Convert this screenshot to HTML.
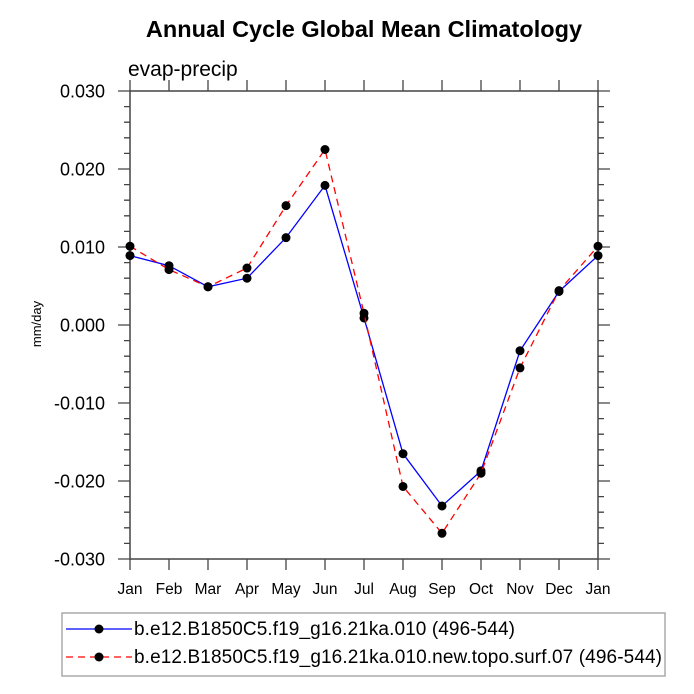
<!DOCTYPE html>
<html><head><meta charset="utf-8"><style>body{margin:0;background:#fff}svg{display:block;font-family:"Liberation Sans",Arial,sans-serif}</style></head>
<body>
<svg id="c" width="694" height="694" viewBox="0 0 694 694">
<text x="364" y="37" text-anchor="middle" font-size="23.5" font-weight="bold">Annual Cycle Global Mean Climatology</text>
<text x="128" y="76" font-size="21">evap-precip</text>
<text transform="translate(41,324) rotate(-90)" text-anchor="middle" font-size="13">mm/day</text>
<g id="axes"></g>
<g id="series"></g>
<rect x="62" y="613" width="603" height="63" fill="none" stroke="#aaa" stroke-width="1.5"/>
<g>
<line x1="66" y1="629" x2="132" y2="629" stroke="#0000ff" stroke-width="1.3"/><circle cx="99" cy="629" r="4.5"/>
<text x="134" y="635" font-size="19" textLength="381">b.e12.B1850C5.f19_g16.21ka.010 (496-544)</text></g>
<g>
<line x1="66" y1="657" x2="132" y2="657" stroke="#ff0000" stroke-width="1.3" stroke-dasharray="7,5"/><circle cx="99" cy="657" r="4.5"/>
<text x="134" y="663" font-size="19" textLength="528">b.e12.B1850C5.f19_g16.21ka.010.new.topo.surf.07 (496-544)</text></g>
</svg>
<script>
const months=["Jan","Feb","Mar","Apr","May","Jun","Jul","Aug","Sep","Oct","Nov","Dec","Jan"];
const seriesA=[0.0089,0.0076,0.0049,0.0060,0.0112,0.0179,0.0009,-0.0165,-0.0232,-0.0187,-0.0033,0.0043,0.0089];
const seriesB=[0.0101,0.0071,0.0049,0.0073,0.0153,0.0225,0.0015,-0.0207,-0.0267,-0.0190,-0.0055,0.0044,0.0101];
const yTicks=[0.030,0.020,0.010,0.000,-0.010,-0.020,-0.030];
const yTickLabels=["0.030","0.020","0.010","0.000","-0.010","-0.020","-0.030"];
const L=130,R=598,T=91,B=559,ymin=-0.03,ymax=0.03;
const xs=i=>L+(R-L)*i/(months.length-1);
const ys=v=>B-(v-ymin)/(ymax-ymin)*(B-T);
const NS="http://www.w3.org/2000/svg";
function mk(tag,at,parent){const e=document.createElementNS(NS,tag);for(const k in at)e.setAttribute(k,at[k]);parent.appendChild(e);return e;}
const ax=document.getElementById('axes');
const fr=mk('rect',{x:L,y:T,width:R-L,height:B-T,fill:'none',stroke:'#444','stroke-width':1.5},ax);


let p="";
for(let k=0;k<=30;k++){const v=ymin+k*0.002;const y=ys(v);const len=(k%5==0)?12:6;p+=`M${L},${y}h${-len}M${R},${y}h${len}`;}
months.forEach((m,i)=>{const x=xs(i);p+=`M${x},${B}v11M${x},${T}v-11`;});
mk('path',{d:p,stroke:'#444','stroke-width':1.3,fill:'none'},ax);
yTicks.forEach((v,i)=>{const t=mk('text',{x:L-25,y:ys(v)+6.5,'text-anchor':'end','font-size':18},ax);t.textContent=yTickLabels[i];

});
months.forEach((m,i)=>{const t=mk('text',{x:xs(i),y:594,'text-anchor':'middle','font-size':15.5},ax);t.textContent=m;

});
const sg=document.getElementById('series');
[[seriesA,'#0000ff',null,'series-a'],[seriesB,'#ff0000','7,5','series-b']].forEach(([d,c,da,n])=>{
const at={points:d.map((v,i)=>xs(i)+','+ys(v)).join(' '),fill:'none',stroke:c,'stroke-width':1.3};if(da)at['stroke-dasharray']=da;
const pl=mk('polyline',at,sg);


d.forEach((v,i)=>{const ci=mk('circle',{cx:xs(i),cy:ys(v),r:4.5,fill:'#000'},sg);

});
});
</script>
</body></html>
